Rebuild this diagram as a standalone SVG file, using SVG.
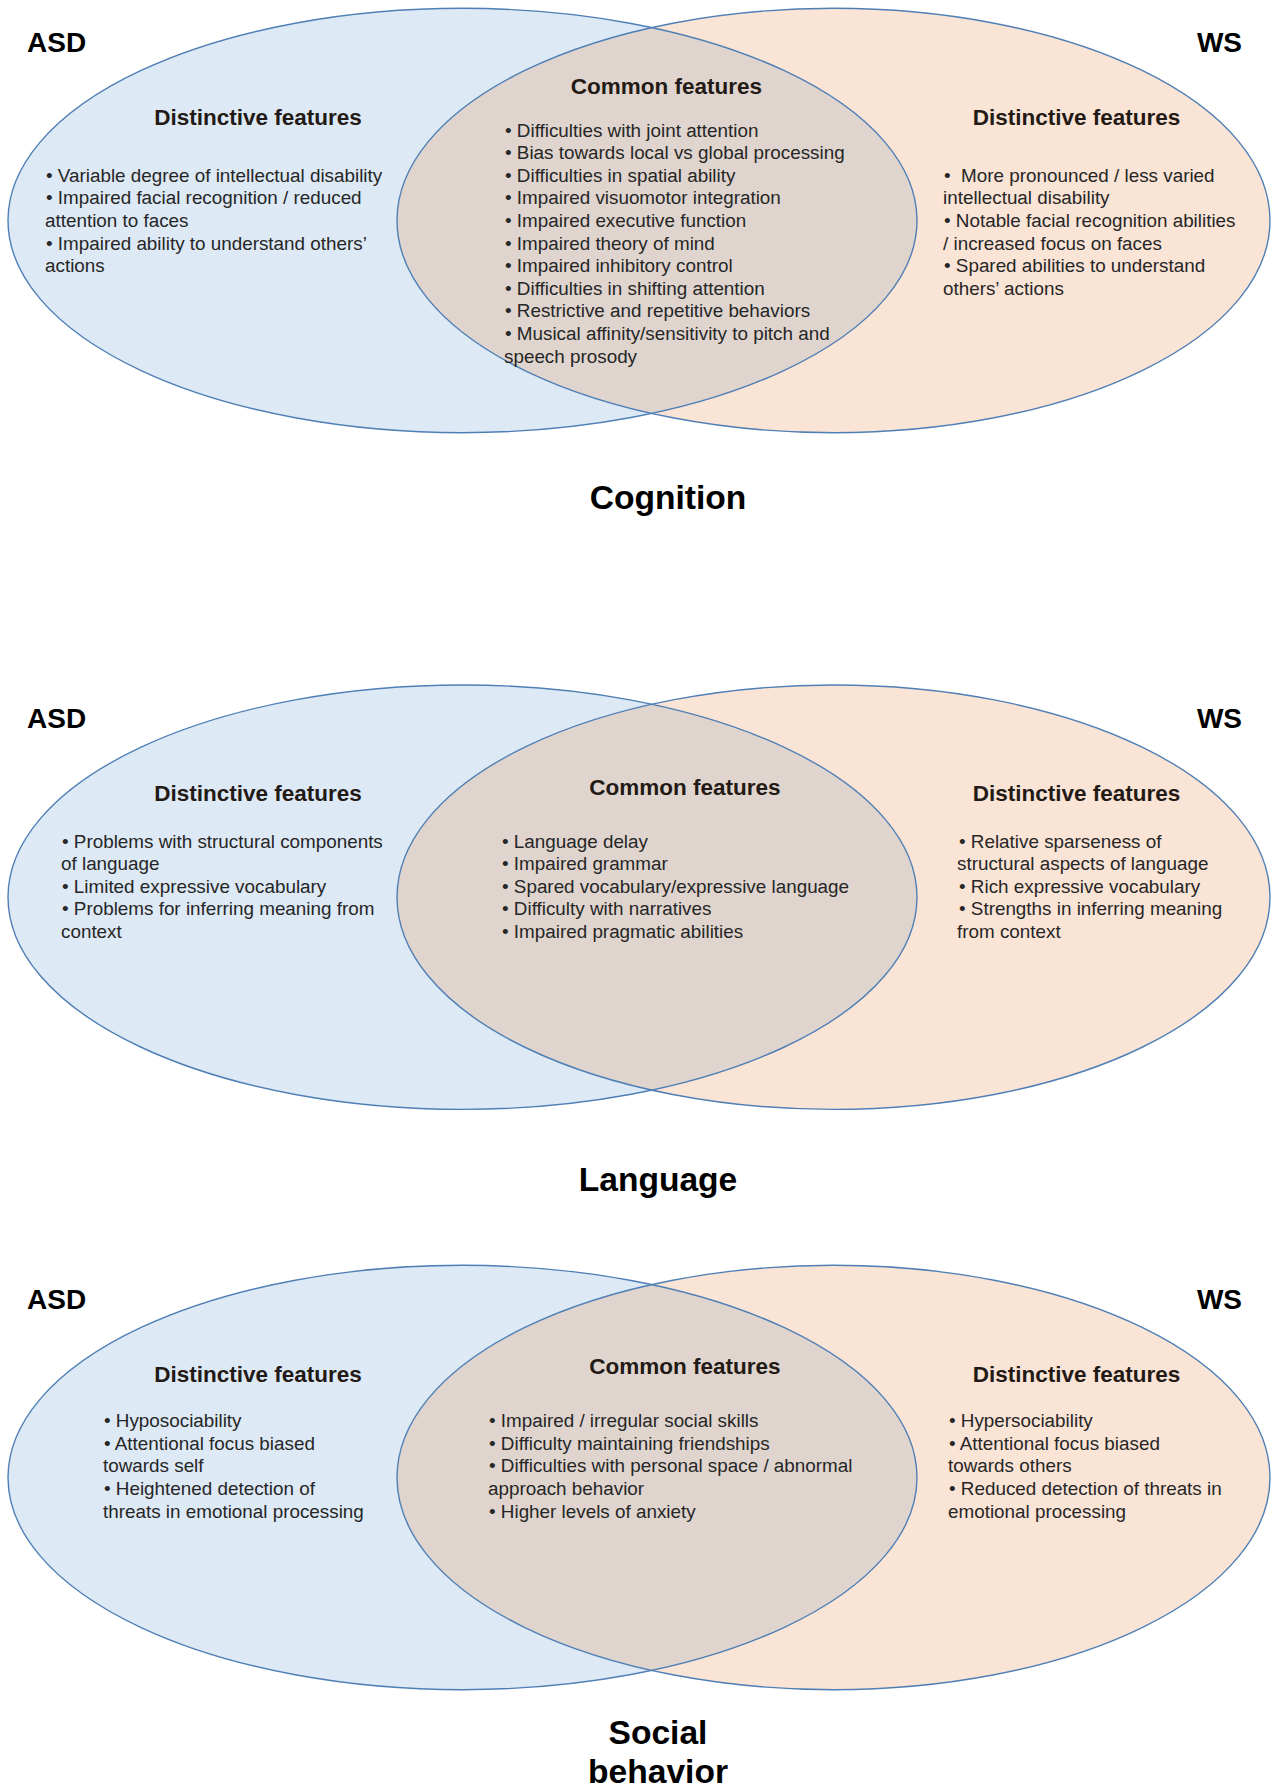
<svg xmlns="http://www.w3.org/2000/svg" xmlns:xlink="http://www.w3.org/1999/xlink" width="1271" height="1787" viewBox="0 0 1271 1787">
<style>
  text { font-family: "Liberation Sans", Arial, sans-serif; }
  .asd { fill: #dde9f5; }
  .ws { fill: #fae4d6; }
  .ov { fill: #dfd5ce; }
  .line { fill: none; stroke: #4f7fb5; stroke-width: 1.4; }
  .grp { font-size: 28px; font-weight: bold; fill: #000; }
  .head { font-size: 22.5px; font-weight: bold; fill: #231a15; text-anchor: middle; }
  .body { font-size: 18.85px; fill: #262626; }
  .title { font-size: 33.6px; font-weight: bold; fill: #000; text-anchor: middle; }
</style>
<defs>
  <ellipse id="eL" cx="462.5" cy="0" rx="454.5" ry="212.2"/>
  <ellipse id="eR" cx="833.5" cy="0" rx="436.5" ry="212.2"/>
  <clipPath id="clipL"><use xlink:href="#eL"/></clipPath>
</defs>

<!-- Section 1: Cognition -->
<g id="cognition">
  <g id="cog-venn" transform="translate(0,220.5)">
    <use xlink:href="#eL" class="asd"/>
    <use xlink:href="#eR" class="ws"/>
    <use xlink:href="#eR" class="ov" clip-path="url(#clipL)"/>
    <use xlink:href="#eL" class="line"/>
    <use xlink:href="#eR" class="line"/>
  </g>
  <g id="cog-asd-label"><text class="grp" x="27" y="51.7">ASD</text></g>
  <g id="cog-ws-label"><text class="grp" x="1242" y="51.7" text-anchor="end">WS</text></g>
  <g id="cog-asd">
    <text class="head" x="258" y="124.7">Distinctive features</text>
    <text class="body">
      <tspan x="46" y="181.5">• Variable degree of intellectual disability</tspan>
      <tspan x="46" y="204.2">• Impaired facial recognition / reduced</tspan>
      <tspan x="45" y="226.9">attention to faces</tspan>
      <tspan x="46" y="249.6">• Impaired ability to understand others’</tspan>
      <tspan x="45" y="272.3">actions</tspan>
    </text>
  </g>
  <g id="cog-common">
    <text class="head" x="666.5" y="94">Common features</text>
    <text class="body">
      <tspan x="505" y="136.5">• Difficulties with joint attention</tspan>
      <tspan x="505" y="159.1">• Bias towards local vs global processing</tspan>
      <tspan x="505" y="181.7">• Difficulties in spatial ability</tspan>
      <tspan x="505" y="204.3">• Impaired visuomotor integration</tspan>
      <tspan x="505" y="226.9">• Impaired executive function</tspan>
      <tspan x="505" y="249.5">• Impaired theory of mind</tspan>
      <tspan x="505" y="272.1">• Impaired inhibitory control</tspan>
      <tspan x="505" y="294.7">• Difficulties in shifting attention</tspan>
      <tspan x="505" y="317.3">• Restrictive and repetitive behaviors</tspan>
      <tspan x="505" y="339.9">• Musical affinity/sensitivity to pitch and</tspan>
      <tspan x="504" y="362.5">speech prosody</tspan>
    </text>
  </g>
  <g id="cog-ws">
    <text class="head" x="1076.5" y="124.7">Distinctive features</text>
    <text class="body" xml:space="preserve"><tspan x="944" y="181.5">•  More pronounced / less varied</tspan><tspan x="943" y="204.2">intellectual disability</tspan><tspan x="944" y="226.9">• Notable facial recognition abilities</tspan><tspan x="943" y="249.6">/ increased focus on faces</tspan><tspan x="944" y="272.3">• Spared abilities to understand</tspan><tspan x="943" y="295">others’ actions</tspan></text>
  </g>
  <g id="cog-title"><text class="title" x="668" y="509">Cognition</text></g>
</g>

<!-- Section 2: Language -->
<g id="language">
  <g id="lang-venn" transform="translate(0,897.2)">
    <use xlink:href="#eL" class="asd"/>
    <use xlink:href="#eR" class="ws"/>
    <use xlink:href="#eR" class="ov" clip-path="url(#clipL)"/>
    <use xlink:href="#eL" class="line"/>
    <use xlink:href="#eR" class="line"/>
  </g>
  <g id="lang-asd-label"><text class="grp" x="27" y="728.3">ASD</text></g>
  <g id="lang-ws-label"><text class="grp" x="1242" y="728.3" text-anchor="end">WS</text></g>
  <g id="lang-asd">
    <text class="head" x="258" y="801.3">Distinctive features</text>
    <text class="body">
      <tspan x="62" y="847.5">• Problems with structural components</tspan>
      <tspan x="61" y="870">of language</tspan>
      <tspan x="62" y="892.5">• Limited expressive vocabulary</tspan>
      <tspan x="62" y="915">• Problems for inferring meaning from</tspan>
      <tspan x="61" y="937.5">context</tspan>
    </text>
  </g>
  <g id="lang-common">
    <text class="head" x="685" y="794.7">Common features</text>
    <text class="body">
      <tspan x="502" y="847.5">• Language delay</tspan>
      <tspan x="502" y="870">• Impaired grammar</tspan>
      <tspan x="502" y="892.5">• Spared vocabulary/expressive language</tspan>
      <tspan x="502" y="915">• Difficulty with narratives</tspan>
      <tspan x="502" y="937.5">• Impaired pragmatic abilities</tspan>
    </text>
  </g>
  <g id="lang-ws">
    <text class="head" x="1076.5" y="801.3">Distinctive features</text>
    <text class="body">
      <tspan x="959" y="847.5">• Relative sparseness of</tspan>
      <tspan x="957" y="870">structural aspects of language</tspan>
      <tspan x="959" y="892.5">• Rich expressive vocabulary</tspan>
      <tspan x="959" y="915">• Strengths in inferring meaning</tspan>
      <tspan x="957" y="937.5">from context</tspan>
    </text>
  </g>
  <g id="lang-title"><text class="title" x="658" y="1191">Language</text></g>
</g>

<!-- Section 3: Social behavior -->
<g id="social">
  <g id="soc-venn" transform="translate(0,1477.5)">
    <use xlink:href="#eL" class="asd"/>
    <use xlink:href="#eR" class="ws"/>
    <use xlink:href="#eR" class="ov" clip-path="url(#clipL)"/>
    <use xlink:href="#eL" class="line"/>
    <use xlink:href="#eR" class="line"/>
  </g>
  <g id="soc-asd-label"><text class="grp" x="27" y="1308.5">ASD</text></g>
  <g id="soc-ws-label"><text class="grp" x="1242" y="1308.5" text-anchor="end">WS</text></g>
  <g id="soc-asd">
    <text class="head" x="258" y="1381.5">Distinctive features</text>
    <text class="body">
      <tspan x="104" y="1426.7">• Hyposociability</tspan>
      <tspan x="104" y="1449.5">• Attentional focus biased</tspan>
      <tspan x="103" y="1472.3">towards self</tspan>
      <tspan x="104" y="1495.1">• Heightened detection of</tspan>
      <tspan x="103" y="1517.9">threats in emotional processing</tspan>
    </text>
  </g>
  <g id="soc-common">
    <text class="head" x="685" y="1374.4">Common features</text>
    <text class="body">
      <tspan x="489" y="1426.7">• Impaired / irregular social skills</tspan>
      <tspan x="489" y="1449.5">• Difficulty maintaining friendships</tspan>
      <tspan x="489" y="1472.3">• Difficulties with personal space / abnormal</tspan>
      <tspan x="488" y="1495.1">approach behavior</tspan>
      <tspan x="489" y="1517.9">• Higher levels of anxiety</tspan>
    </text>
  </g>
  <g id="soc-ws">
    <text class="head" x="1076.5" y="1381.5">Distinctive features</text>
    <text class="body">
      <tspan x="949" y="1426.7">• Hypersociability</tspan>
      <tspan x="949" y="1449.5">• Attentional focus biased</tspan>
      <tspan x="948" y="1472.3">towards others</tspan>
      <tspan x="949" y="1495.1">• Reduced detection of threats in</tspan>
      <tspan x="948" y="1517.9">emotional processing</tspan>
    </text>
  </g>
  <g id="soc-title">
    <text class="title" x="658" y="1743.6">Social</text>
    <text class="title" x="658" y="1783">behavior</text>
  </g>
</g>
</svg>
